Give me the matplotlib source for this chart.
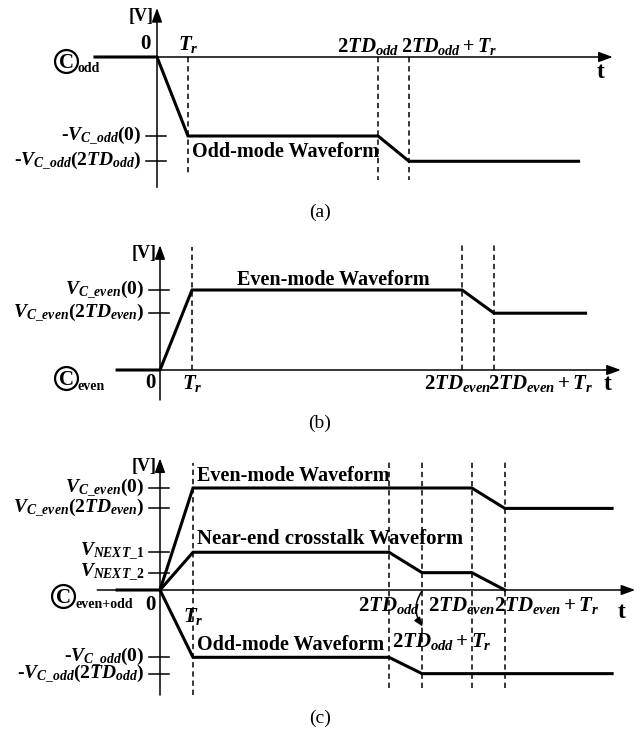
import matplotlib
matplotlib.use('Agg')
import matplotlib.pyplot as plt
from matplotlib.transforms import Affine2D

plt.rcParams['font.family'] = 'Liberation Serif'
plt.rcParams['font.weight'] = 'bold'
plt.rcParams['mathtext.fontset'] = 'custom'
plt.rcParams['mathtext.rm'] = 'Liberation Serif:bold'
plt.rcParams['mathtext.it'] = 'Liberation Serif:italic:bold'
plt.rcParams['mathtext.bf'] = 'Liberation Serif:bold'

# time in units of the rise time Tr, voltage in units of the first plateau
tr = 1.0

# (a) odd-mode waveform
a_td = 7.13                      # 2TD_odd
a_levels = [-1.0, -1.32]
a_labels = ['-$V_{C\\_odd}$(0)', '-$V_{C\\_odd}$(2$TD_{odd}$)']
a_t = [-2.0, 0.0, tr, a_td, a_td + tr, 13.6]
a_v = [0.0, 0.0, -1.0, -1.0, -1.32, -1.32]

# (b) even-mode waveform
b_td = 9.44                      # 2TD_even
b_levels = [1.0, 0.71]
b_labels = ['$V_{C\\_even}$(0)', '$V_{C\\_even}$(2$TD_{even}$)']
b_t = [-1.34, 0.0, tr, b_td, b_td + tr, 13.3]
b_v = [0.0, 0.0, 1.0, 1.0, 0.71, 0.71]

# (c) even + odd and near-end crosstalk
c_td_odd = 6.94
c_td_even = 9.45
c_levels = [1.0, 0.80, 0.37, 0.17, -0.66, -0.82]
c_labels = ['$V_{C\\_even}$(0)', '$V_{C\\_even}$(2$TD_{even}$)',
            '$V_{NEXT\\_1}$', '$V_{NEXT\\_2}$',
            '-$V_{C\\_odd}$(0)', '-$V_{C\\_odd}$(2$TD_{odd}$)']
c_even_t = [-1.3, 0.0, tr, c_td_even, c_td_even + tr, 13.7]
c_even_v = [0.0, 0.0, 1.0, 1.0, 0.80, 0.80]
c_next_t = [0.0, tr, c_td_odd, c_td_odd + tr, c_td_even, c_td_even + tr]
c_next_v = [0.0, 0.37, 0.37, 0.17, 0.17, 0.0]
c_odd_t = [0.0, tr, c_td_odd, c_td_odd + tr, 13.7]
c_odd_v = [0.0, -0.66, -0.66, -0.82, -0.82]

W, H = 644, 737
fig = plt.figure(figsize=(W / 100, H / 100), dpi=100)
PX = Affine2D().scale(1, -1).translate(0, H)   # pixel positions, y down


def panel(top, bottom, x0, y0, sx, sy):
    ax = fig.add_axes([0, 1 - bottom / H, 1, (bottom - top) / H])
    ax.set_xlim(-x0 / sx, (W - x0) / sx)
    ax.set_ylim((y0 - bottom) / sy, (y0 - top) / sy)
    ax.axis('off')
    return ax


def arrow(ax, x1, y1, x2, y2, **kw):
    props = dict(arrowstyle='-|>,head_length=0.6,head_width=0.22', lw=1.1,
                 color='k', shrinkA=0, shrinkB=0, mutation_scale=14)
    props.update(kw)
    ax.annotate('', xy=(x2, y2), xytext=(x1, y1), arrowprops=props)


def frame(ax, xl, xh, yl, yh, sx, sy):
    arrow(ax, xl, 0, xh, 0)
    arrow(ax, 0, yl, 0, yh)
    ax.text(-3 / sx, yh - 8 / sy, '[V]', ha='right', va='center', fontsize=13)


def yticks(ax, levels, labels, sx):
    for v, s in zip(levels, labels):
        ax.plot([-11 / sx, 9 / sx], [v, v], color='k', lw=1.1)
        ax.text(-16 / sx, v, s, ha='right', va='center', fontsize=14)


def dashed(ax, t, lo, hi):
    ax.plot([t, t], [lo, hi], color='k', lw=1.1, dashes=(3.5, 2.5))


def wave(ax, t, v):
    ax.plot(t, v, color='k', lw=2.2, solid_joinstyle='miter')


def circled(x, y, sub):
    fig.text(x + 0.5, y + 7, 'C', transform=PX, ha='center', va='baseline',
             fontsize=15)
    fig.lines.append(plt.Line2D([x], [y], transform=PX, marker='o', ms=16.5,
                                mfc='none', mec='k', mew=1.6))
    fig.text(x + 12, y + 8, sub, transform=PX, ha='left', va='center',
             fontsize=10)


# ---------- (a) ----------
sx, sy = 31, 79
ax = panel(0, 222, 157, 57, sx, sy)
frame(ax, -2.0, 14.7, -1.65, 0.62, sx, sy)
yticks(ax, a_levels, a_labels, sx)
dashed(ax, tr, 0, -1.47)
dashed(ax, a_td, 0, -1.56)
dashed(ax, a_td + tr, 0, -1.56)
wave(ax, a_t, a_v)
ax.text(-12 / sx, 0.04, '0', ha='center', va='bottom', fontsize=15)
ax.text(tr, 0.02, '$T_r$', ha='center', va='bottom', fontsize=15)
ax.text(a_td - 10 / sx, 0.0, '$2TD_{odd}$', ha='center', va='bottom', fontsize=15)
ax.text(a_td + tr - 8 / sx, 0.0, '$2TD_{odd}+T_r$', ha='left', va='bottom', fontsize=14.5)
ax.text(14.3, -0.2, 't', ha='center', va='center', fontsize=17)
ax.text(tr + 4 / sx, -1.2, 'Odd-mode Waveform', ha='left', va='center', fontsize=14.5)
circled(66, 61, 'odd')
fig.text(320, 212, '(a)', transform=PX, ha='center', va='center',
         fontsize=14, fontweight='normal')

# ---------- (b) ----------
sx, sy = 32, 80
ax = panel(222, 440, 160, 370, sx, sy)
frame(ax, -1.34, 14.4, -0.375, 1.56, sx, sy)
yticks(ax, b_levels, b_labels, sx)
dashed(ax, tr, 0, 1.54)
dashed(ax, b_td, 0, 1.59)
dashed(ax, b_td + tr, 0, 1.59)
wave(ax, b_t, b_v)
ax.text(-10 / sx, -0.04, '0', ha='center', va='top', fontsize=15)
ax.text(tr, -0.04, '$T_r$', ha='center', va='top', fontsize=15)
ax.text(b_td - 5 / sx, -0.04, '$2TD_{even}$', ha='center', va='top', fontsize=15)
ax.text(b_td + tr - 6 / sx, -0.04, '$2TD_{even}+T_r$', ha='left', va='top', fontsize=15)
ax.text(14.0, -0.18, 't', ha='center', va='center', fontsize=17)
ax.text(2.4, 1.12, 'Even-mode Waveform', ha='left', va='center', fontsize=14.5)
circled(66, 378, 'even')
fig.text(320, 423, '(b)', transform=PX, ha='center', va='center',
         fontsize=14, fontweight='normal')

# ---------- (c) ----------
sx, sy = 33, 102
ax = panel(440, 737, 160, 590, sx, sy)
frame(ax, -1.9, 14.4, -1.03, 1.29, sx, sy)
yticks(ax, c_levels, c_labels, sx)
dashed(ax, tr, -1.03, 1.25)
for t in [c_td_odd, c_td_odd + tr, c_td_even, c_td_even + tr]:
    dashed(ax, t, -0.96, 1.27)
wave(ax, c_even_t, c_even_v)
wave(ax, c_next_t, c_next_v)
wave(ax, c_odd_t, c_odd_v)
ax.text(-10 / sx, -0.05, '0', ha='center', va='top', fontsize=15)
ax.text(tr, -0.16, '$T_r$', ha='center', va='top', fontsize=15)
ax.text(c_td_odd, -0.05, '$2TD_{odd}$', ha='center', va='top', fontsize=15)
ax.text(c_td_even - 10 / sx, -0.05, '$2TD_{even}$', ha='center', va='top', fontsize=15)
ax.text(c_td_even + tr - 11 / sx, -0.05, '$2TD_{even}+T_r$', ha='left', va='top', fontsize=15)
ax.text(c_td_odd + 3 / sx, -0.40, '$2TD_{odd}+T_r$', ha='left', va='top', fontsize=15)
ax.text(14.0, -0.22, 't', ha='center', va='center', fontsize=17)
arrow(ax, c_td_odd + tr, -0.01, c_td_odd + tr + 1 / sx, -0.36,
      connectionstyle='arc3,rad=0.35', mutation_scale=9)
ax.text(tr + 4 / sx, 1.12, 'Even-mode Waveform', ha='left', va='center', fontsize=14.5)
ax.text(tr + 4 / sx, 0.5, 'Near-end crosstalk Waveform', ha='left', va='center', fontsize=15)
ax.text(tr + 4 / sx, -0.54, 'Odd-mode Waveform', ha='left', va='center', fontsize=14.5)
circled(63, 596, 'even+odd')
fig.text(320, 718, '(c)', transform=PX, ha='center', va='center',
         fontsize=14, fontweight='normal')

fig.savefig('out.png', dpi=100)
